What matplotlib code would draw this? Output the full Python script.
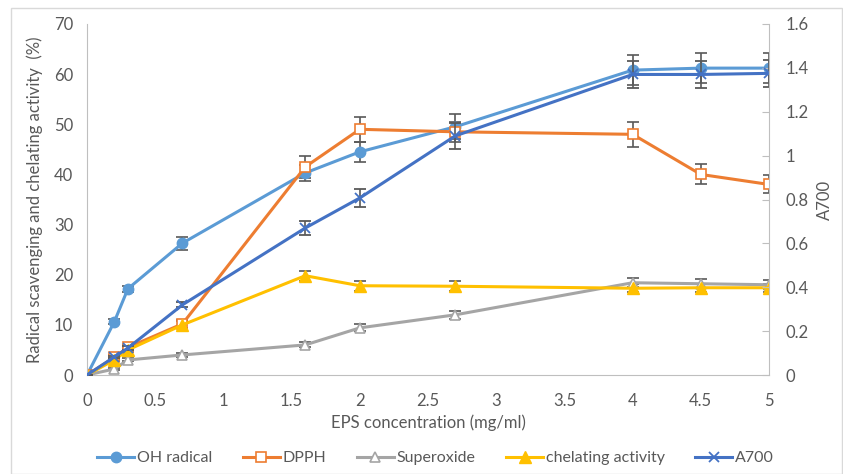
import matplotlib.pyplot as plt
from matplotlib.patches import Rectangle
import numpy as np

plt.rcParams['font.family'] = ['Lato', 'DejaVu Sans']

x = [0, 0.2, 0.3, 0.7, 1.6, 2, 2.7, 4, 4.5, 5]

oh = [0, 10.6, 17.2, 26.3, 40.3, 44.5, 49.5, 60.8, 61.2, 61.2]
oh_err = [0, 0.5, 0.6, 1.3, 1.6, 2.0, 2.5, 3.0, 3.0, 3.0]
dpph = [0, 3.5, 5.5, 10.2, 41.5, 49.0, 48.5, 48.0, 40.0, 38.0]
dpph_err = [0, 0.4, 0.5, 0.8, 2.2, 2.5, 2.0, 2.5, 2.0, 1.8]
superox = [0, 1.2, 3.0, 4.0, 6.0, 9.4, 12.0, 18.4, 18.2, 18.0]
superox_err = [0, 0.2, 0.3, 0.4, 0.5, 0.7, 0.8, 0.9, 0.9, 0.9]
chel = [0, 3.0, 5.0, 10.0, 19.8, 17.8, 17.7, 17.3, 17.4, 17.4]
chel_err = [0, 0.3, 0.4, 0.7, 1.0, 1.0, 1.0, 0.8, 0.8, 0.8]
a700 = [0, 0.082, 0.123, 0.32, 0.67, 0.807, 1.09, 1.37, 1.37, 1.375]
a700_err = [0, 0.005, 0.008, 0.012, 0.03, 0.04, 0.06, 0.06, 0.06, 0.06]

left_ticks = np.arange(0, 71, 10)
right_ticks = np.arange(0, 1.61, 0.2)
x_ticks = np.arange(0, 5.01, 0.5)

c_oh = '#5B9BD5'
c_dpph = '#ED7D31'
c_sup = '#A5A5A5'
c_chel = '#FFC000'
c_a700 = '#4472C4'
c_err = '#595959'
c_txt = '#595959'
c_axis = '#BFBFBF'

fig = plt.figure(figsize=(8.43, 4.74), dpi=100)
ax = fig.add_axes([87/843, 1-375/474, (769-87)/843, (375-24)/474])
ax2 = ax.twinx()

ekw = dict(ecolor=c_err, elinewidth=1.2, capsize=4.5, capthick=1.2)
h1 = ax.errorbar(x, oh, yerr=oh_err, color=c_oh, lw=2.2, marker='o', ms=7.5, **ekw)
h2 = ax.errorbar(x, dpph, yerr=dpph_err, color=c_dpph, lw=2.2, marker='s', ms=7.5,
                 mfc='white', mec=c_dpph, mew=1.2, **ekw)
h3 = ax.errorbar(x, superox, yerr=superox_err, color=c_sup, lw=2.2, marker='^', ms=7.5,
                 mfc='white', mec=c_sup, mew=1.2, **ekw)
h4 = ax.errorbar(x, chel, yerr=chel_err, color=c_chel, lw=2.2, marker='^', ms=8.5, **ekw)
h5 = ax2.errorbar(x, a700, yerr=a700_err, color=c_a700, lw=2.2, marker='x', ms=7.5, mew=1.3, **ekw)

ax.set_xlim(0, 5)
ax.set_ylim(0, 70)
ax2.set_ylim(0, 1.6)
ax.set_xticks(x_ticks)
ax.set_xticklabels(['0', '0.5', '1', '1.5', '2', '2.5', '3', '3.5', '4', '4.5', '5'])
ax.set_yticks(left_ticks)
ax2.set_yticks(right_ticks)
ax2.set_yticklabels(['0', '0.2', '0.4', '0.6', '0.8', '1', '1.2', '1.4', '1.6'])

for a in (ax, ax2):
    for s in a.spines.values():
        s.set_visible(False)
ax.spines['left'].set_visible(True)
ax.spines['left'].set_color(c_axis)
ax.spines['bottom'].set_visible(True)
ax.spines['bottom'].set_color(c_axis)
ax2.spines['right'].set_visible(True)
ax2.spines['right'].set_color(c_axis)

ax.tick_params(axis='x', length=0, labelsize=12, colors=c_txt, pad=13)
ax.tick_params(axis='y', length=0, labelsize=12, colors=c_txt, pad=10)
ax2.tick_params(axis='y', direction='in', length=5, color=c_axis, labelsize=12,
                labelcolor=c_txt, pad=12)

ax.set_xlabel('EPS concentration (mg/ml)', fontsize=12, color=c_txt, labelpad=4)
ax.set_ylabel('Radical scavenging and chelating activity  (%)', fontsize=12, color=c_txt, labelpad=8)
ax2.set_ylabel('A700', fontsize=12, color=c_txt, labelpad=6)

handles = [h1[0], h2[0], h3[0], h4[0], h5[0]]
labels = ['OH radical', 'DPPH', 'Superoxide', 'chelating activity', 'A700']
fig.legend(handles, labels, loc='center', bbox_to_anchor=(0.517, 1-458/474), ncol=5,
           frameon=False, fontsize=11.5, handlelength=2.3, columnspacing=1.9,
           handletextpad=0.2, labelcolor=c_txt)

fig.patches.append(Rectangle((11/843, 0), (842-11)/843, 1-8/474, transform=fig.transFigure,
                             fill=False, ec='#D9D9D9', lw=1))

fig.savefig('out.png', dpi=100)
